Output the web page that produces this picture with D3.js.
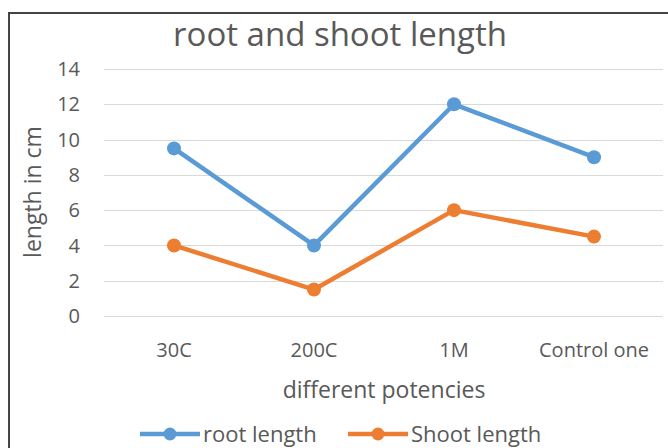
<!DOCTYPE html>
<html>
<head>
<meta charset="utf-8">
<script src="https://cdn.jsdelivr.net/npm/d3@7"></script>
<style>
  body { margin: 0; background: #fff; }
  text { font-family: "Open Sans", sans-serif; fill: #595959; }
</style>
</head>
<body>
<script>
// data
const categories = ["30C", "200C", "1M", "Control one"];
const rootLength = [9.5, 4, 12, 9];
const shootLength = [4, 1.5, 6, 4.5];
const yTicks = [0, 2, 4, 6, 8, 10, 12, 14];
const seriesNames = ["root length", "Shoot length"];
// data

const W = 668, H = 448;
let margin = { top: 69, right: 4, bottom: 132, left: 104 };
let width = W - margin.left - margin.right,
    height = H - margin.top - margin.bottom;

const colors = ["#5B9BD5", "#ED7D31"];

const svg = d3.select("body").append("svg")
  .attr("width", W)
  .attr("height", H);

// chart border
svg.append("path")
  .attr("d", "M9,448 L9,13 L668,13")
  .attr("fill", "none")
  .attr("stroke", "#444")
  .attr("stroke-width", 2);

const g = svg.append("g")
  .attr("transform", "translate(" + margin.left + "," + margin.top + ")");

const x = d3.scaleBand().domain(categories).range([0, 560]);
const y = d3.scaleLinear().domain([0, 14]).range([height, 0]);

// gridlines
g.selectAll(".grid")
  .data(yTicks)
  .enter().append("line")
  .attr("x1", 0).attr("x2", 559)
  .attr("y1", d => Math.round(y(d)) + 0.5)
  .attr("y2", d => Math.round(y(d)) + 0.5)
  .attr("stroke", "#d9d9d9")
  .attr("stroke-width", 1.2);

// y axis labels
g.selectAll(".ytick")
  .data(yTicks)
  .enter().append("text")
  .attr("x", -24)
  .attr("y", d => y(d))
  .attr("dy", "0.36em")
  .attr("text-anchor", "end")
  .style("font-size", "20px")
  .text(d => d);

// x axis labels
g.selectAll(".xtick")
  .data(categories)
  .enter().append("text")
  .attr("x", d => x(d) + x.bandwidth() / 2)
  .attr("y", height + 41)
  .attr("text-anchor", "middle")
  .style("font-size", "20px")
  .text(d => d);

// title
svg.append("text")
  .attr("x", 340).attr("y", 46)
  .attr("text-anchor", "middle")
  .style("font-size", "33px")
  .text("root and shoot length");

// axis titles
svg.append("text")
  .attr("transform", "translate(41," + 192 + ") rotate(-90)")
  .attr("text-anchor", "middle")
  .style("font-size", "23px")
  .text("length in cm");

svg.append("text")
  .attr("x", 384).attr("y", 398)
  .attr("text-anchor", "middle")
  .style("font-size", "23px")
  .text("different potencies");

// lines
const line = d3.line()
  .x((d, i) => x(categories[i]) + x.bandwidth() / 2)
  .y(d => y(d));

[rootLength, shootLength].forEach((s, k) => {
  g.append("path")
    .datum(s)
    .attr("d", line)
    .attr("fill", "none")
    .attr("stroke", colors[k])
    .attr("stroke-width", 4.5)
    .attr("stroke-linejoin", "round");
  g.selectAll(".pt" + k)
    .data(s)
    .enter().append("circle")
    .attr("cx", (d, i) => x(categories[i]) + x.bandwidth() / 2)
    .attr("cy", d => y(d))
    .attr("r", 7)
    .attr("fill", colors[k]);
});

// legend
const legX = [140, 348];
seriesNames.forEach((name, k) => {
  const lg = svg.append("g").attr("transform", "translate(" + legX[k] + ",434)");
  lg.append("line")
    .attr("x1", 0).attr("x2", 60)
    .attr("stroke", colors[k]).attr("stroke-width", 4.5);
  lg.append("circle").attr("cx", 30).attr("r", 6.5).attr("fill", colors[k]);
  lg.append("text")
    .attr("x", 63).attr("dy", "0.35em")
    .style("font-size", "22px")
    .text(name);
});
</script>
</body>
</html>
